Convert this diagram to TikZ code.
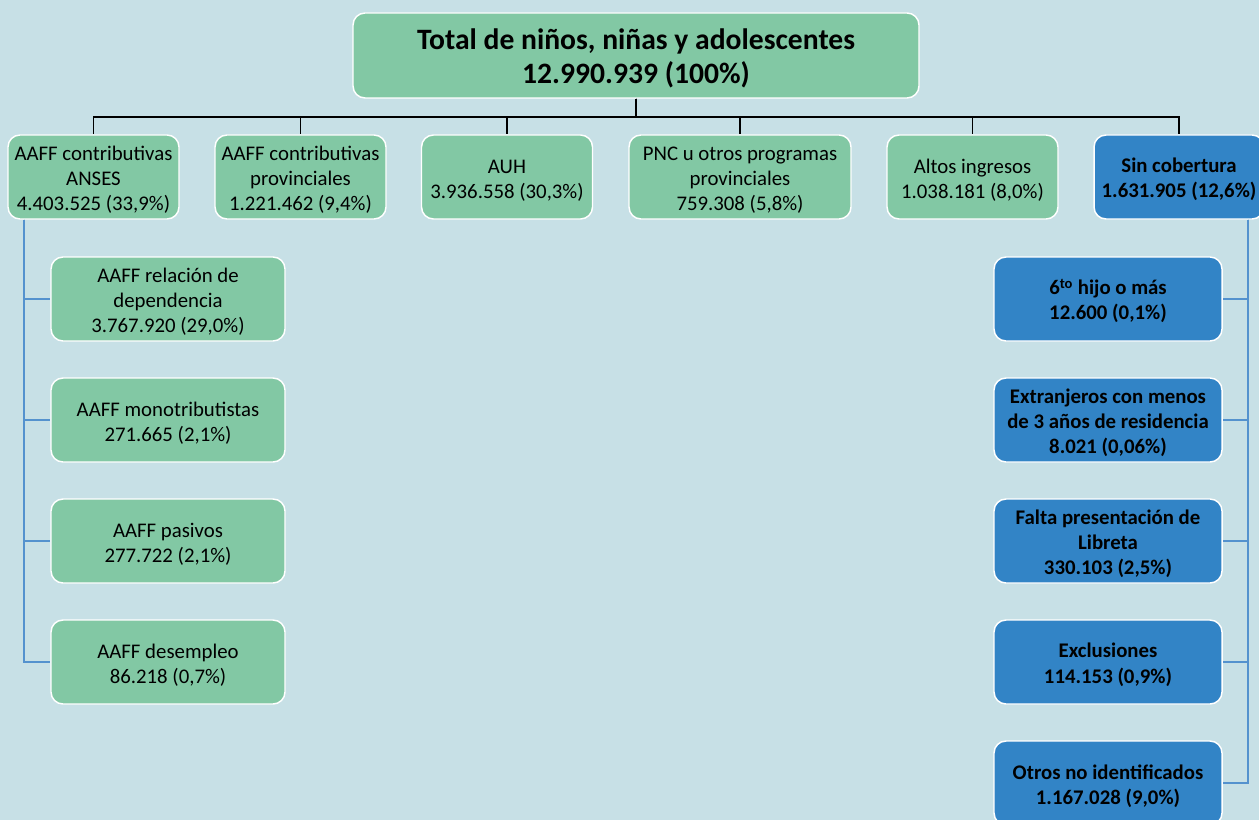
\documentclass[tikz,border=0pt]{standalone}
\usepackage{fontspec}
\setmainfont{Carlito}
\definecolor{bgc}{RGB}{199,224,230}
\definecolor{gfill}{RGB}{130,200,164}
\definecolor{bfill}{RGB}{50,132,198}
\definecolor{bline}{RGB}{84,146,206}
\newcommand{\tsu}{\rule{0pt}{15.1pt}}
\newcommand{\tst}{\rule{0pt}{19.8pt}}
\begin{document}
\begin{tikzpicture}[x=0.75pt,y=-0.75pt,
  basebox/.style={draw=white,line width=1.1pt,rounded corners=9pt,align=center,inner sep=0pt,text=black,
    font=\fontsize{15.6}{18.75}\selectfont},
  gbox/.style={basebox,fill=gfill,minimum width=128.25pt,minimum height=63pt},
  topbox/.style={basebox,fill=gfill,minimum width=424.5pt,minimum height=63.75pt,
    font=\fontsize{22.2}{25.5}\selectfont\bfseries},
  lbox/.style={basebox,fill=gfill,minimum width=175.5pt,minimum height=63pt},
  rbox/.style={basebox,fill=bfill,minimum width=171pt,minimum height=63pt,
    font=\fontsize{15.6}{18.75}\selectfont\bfseries},
  conn/.style={draw=black,line width=1.3pt},
  bconn/.style={draw=bline,line width=1.4pt}]
\useasboundingbox (0,0) rectangle (1259,820);
\fill[bgc] (0,0) rectangle (1259,820);

\node[topbox] (top) at (636,55.5) {\tst Total de niños, niñas y adolescentes\\12.990.939 (100\%)};

\node[gbox] (b1) at (93.5,177) {\tsu AAFF contributivas\\ANSES\\4.403.525 (33,9\%)};
\node[gbox] (b2) at (300.5,177) {\tsu AAFF contributivas\\provinciales\\1.221.462 (9,4\%)};
\node[gbox] (b3) at (507,177) {\tsu AUH\\3.936.558 (30,3\%)};
\node[gbox,minimum width=166.5pt] (b4) at (740,177) {\tsu PNC u otros programas\\provinciales\\759.308 (5,8\%)};
\node[gbox] (b5) at (972.5,177) {\tsu Altos ingresos\\1.038.181 (8,0\%)};
\node[rbox,minimum width=127.5pt] (b6) at (1179,177) {\tsu Sin cobertura\\1.631.905 (12,6\%)};

\foreach \b in {b1,b2,b3,b4,b5,b6}
  \draw[conn] (top.south) -- ++(0,18) -| (\b.north);

\node[lbox] (c1) at (168,299) {\tsu AAFF relación de\\dependencia\\3.767.920 (29,0\%)};
\node[lbox] (c2) at (168,420) {\tsu AAFF monotributistas\\271.665 (2,1\%)};
\node[lbox] (c3) at (168,541) {\tsu AAFF pasivos\\277.722 (2,1\%)};
\node[lbox] (c4) at (168,662) {\tsu AAFF desempleo\\86.218 (0,7\%)};

\foreach \c in {c1,c2,c3,c4}
  \draw[bconn] (b1.south west) ++(17,0) |- (\c.west);

\node[rbox] (d1) at (1108,299) {\tsu 6\textsuperscript{to} hijo o más\\12.600 (0,1\%)};
\node[rbox] (d2) at (1108,420) {\tsu Extranjeros con menos\\de 3 años de residencia\\8.021 (0,06\%)};
\node[rbox] (d3) at (1108,541) {\tsu Falta presentación de\\Libreta\\330.103 (2,5\%)};
\node[rbox] (d4) at (1108,662) {\tsu Exclusiones\\114.153 (0,9\%)};
\node[rbox] (d5) at (1108,783) {\tsu Otros no identificados\\1.167.028 (9,0\%)};

\foreach \d in {d1,d2,d3,d4,d5}
  \draw[bconn] (b6.south east) ++(-17,0) |- (\d.east);
\end{tikzpicture}
\end{document}
